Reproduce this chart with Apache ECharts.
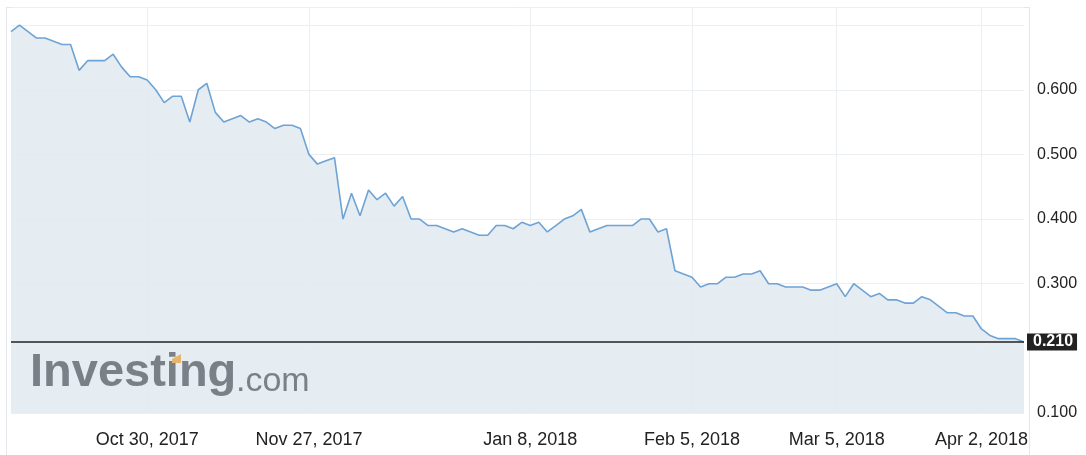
<!DOCTYPE html>
<html>
<head>
<meta charset="utf-8">
<script src="https://cdn.jsdelivr.net/npm/echarts@6/dist/echarts.min.js"></script>
<style>
html,body{margin:0;padding:0;background:#fff;}
#chart{width:1086px;height:455px;}
</style>
</head>
<body>
<div id="chart"></div>
<script>
// Daily closing prices
const prices = [
  0.69, 0.70, 0.69, 0.68, 0.68, 0.675, 0.67, 0.67, 0.63, 0.645,
  0.645, 0.645, 0.655, 0.635, 0.62, 0.62, 0.615, 0.60, 0.58, 0.59,
  0.59, 0.55, 0.60, 0.61, 0.565, 0.55, 0.555, 0.56, 0.55, 0.555,
  0.55, 0.54, 0.545, 0.545, 0.54, 0.50, 0.485, 0.49, 0.495, 0.40,
  0.44, 0.405, 0.445, 0.43, 0.44, 0.42, 0.435, 0.40, 0.40, 0.39,
  0.39, 0.385, 0.38, 0.385, 0.38, 0.375, 0.375, 0.39, 0.39, 0.385,
  0.395, 0.39, 0.395, 0.38, 0.39, 0.40, 0.405, 0.415, 0.38, 0.385,
  0.39, 0.39, 0.39, 0.39, 0.40, 0.40, 0.38, 0.385, 0.32, 0.315,
  0.31, 0.295, 0.30, 0.30, 0.31, 0.31, 0.315, 0.315, 0.32, 0.30,
  0.30, 0.295, 0.295, 0.295, 0.29, 0.29, 0.295, 0.30, 0.28, 0.30,
  0.29, 0.28, 0.285, 0.275, 0.275, 0.27, 0.27, 0.28, 0.275, 0.265,
  0.255, 0.255, 0.25, 0.25, 0.23, 0.22, 0.215, 0.215, 0.215, 0.21
];
const categories = prices.map((_, i) => String(i));
const tickIndex = [16, 35, 61, 80, 97, 114];
const tickLabels = ['Oct 30, 2017', 'Nov 27, 2017', 'Jan 8, 2018', 'Feb 5, 2018', 'Mar 5, 2018', 'Apr 2, 2018'];
const yTicksShown = [0.1, 0.3, 0.4, 0.5, 0.6];
const lastPrice = 0.21;
const watermark = ['Investing', '.com'];

const FONT = '"Liberation Sans", Arial, Helvetica, sans-serif';
const chart = echarts.init(document.getElementById('chart'), null, {renderer: 'canvas'});
const isTick = (idx) => tickIndex.indexOf(idx) >= 0;

chart.setOption({
  animation: false,
  backgroundColor: '#ffffff',
  grid: {left: 11, right: 62, top: 7, bottom: 42, containLabel: false},
  xAxis: {
    type: 'category',
    data: categories,
    boundaryGap: false,
    axisLine: {show: false},
    axisTick: {show: false},
    axisLabel: {
      interval: (idx) => isTick(idx),
      formatter: (v, idx) => {
        const k = tickIndex.indexOf(Number(v));
        return k >= 0 ? tickLabels[k] : '';
      },
      color: '#222',
      fontSize: 18,
      fontFamily: FONT,
      margin: 18
    },
    splitLine: {
      show: true,
      interval: (idx) => isTick(idx),
      lineStyle: {color: '#eceff2', width: 1}
    }
  },
  yAxis: {
    type: 'value',
    position: 'right',
    min: 0.1,
    max: 0.728,
    interval: 0.1,
    axisLine: {show: false},
    axisTick: {show: false},
    axisLabel: {
      margin: 13,
      color: '#222',
      fontSize: 16,
      fontFamily: FONT,
      formatter: (v) => yTicksShown.some(t => Math.abs(t - v) < 1e-6) ? v.toFixed(3) : ''
    },
    splitLine: {lineStyle: {color: '#eceff2', width: 1}}
  },
  graphic: [
    {type: 'line', z: 0, shape: {x1: 6.5, y1: 7.5, x2: 1029.5, y2: 7.5}, style: {stroke: '#e3e7ec', lineWidth: 1}},
    {type: 'line', z: 0, shape: {x1: 6.5, y1: 7, x2: 6.5, y2: 455}, style: {stroke: '#e3e7ec', lineWidth: 1}},
    {type: 'line', z: 0, shape: {x1: 1029.5, y1: 7, x2: 1029.5, y2: 455}, style: {stroke: '#e3e7ec', lineWidth: 1}},
    {type: 'text', z: 10, left: 30, top: 350, style: {text: watermark[0], font: 'bold 47px ' + FONT, fill: '#7b8087'}},
    {type: 'text', z: 10, left: 236, top: 365, style: {text: watermark[1], font: '34px ' + FONT, fill: '#7b8087'}},
    {type: 'polygon', z: 11, shape: {points: [[172, 359], [181, 354], [181, 363], [172, 363]]}, style: {fill: '#e5b56e'}}
  ],
  series: [{
    type: 'line',
    data: prices,
    symbol: 'none',
    z: 3,
    lineStyle: {color: '#6ea3d5', width: 1.6},
    areaStyle: {color: '#e2eaf1', opacity: 0.9},
    markLine: {
      silent: true,
      symbol: 'none',
      data: [{yAxis: lastPrice}],
      lineStyle: {color: '#222', width: 1.5, type: 'solid'},
      label: {
        position: 'end',
        distance: 3,
        formatter: () => lastPrice.toFixed(3),
        color: '#fff',
        backgroundColor: '#222',
        fontWeight: 'bold',
        fontSize: 16,
        fontFamily: FONT,
        padding: [1, 4, 0, 6]
      }
    }
  }]
});
</script>
</body>
</html>
